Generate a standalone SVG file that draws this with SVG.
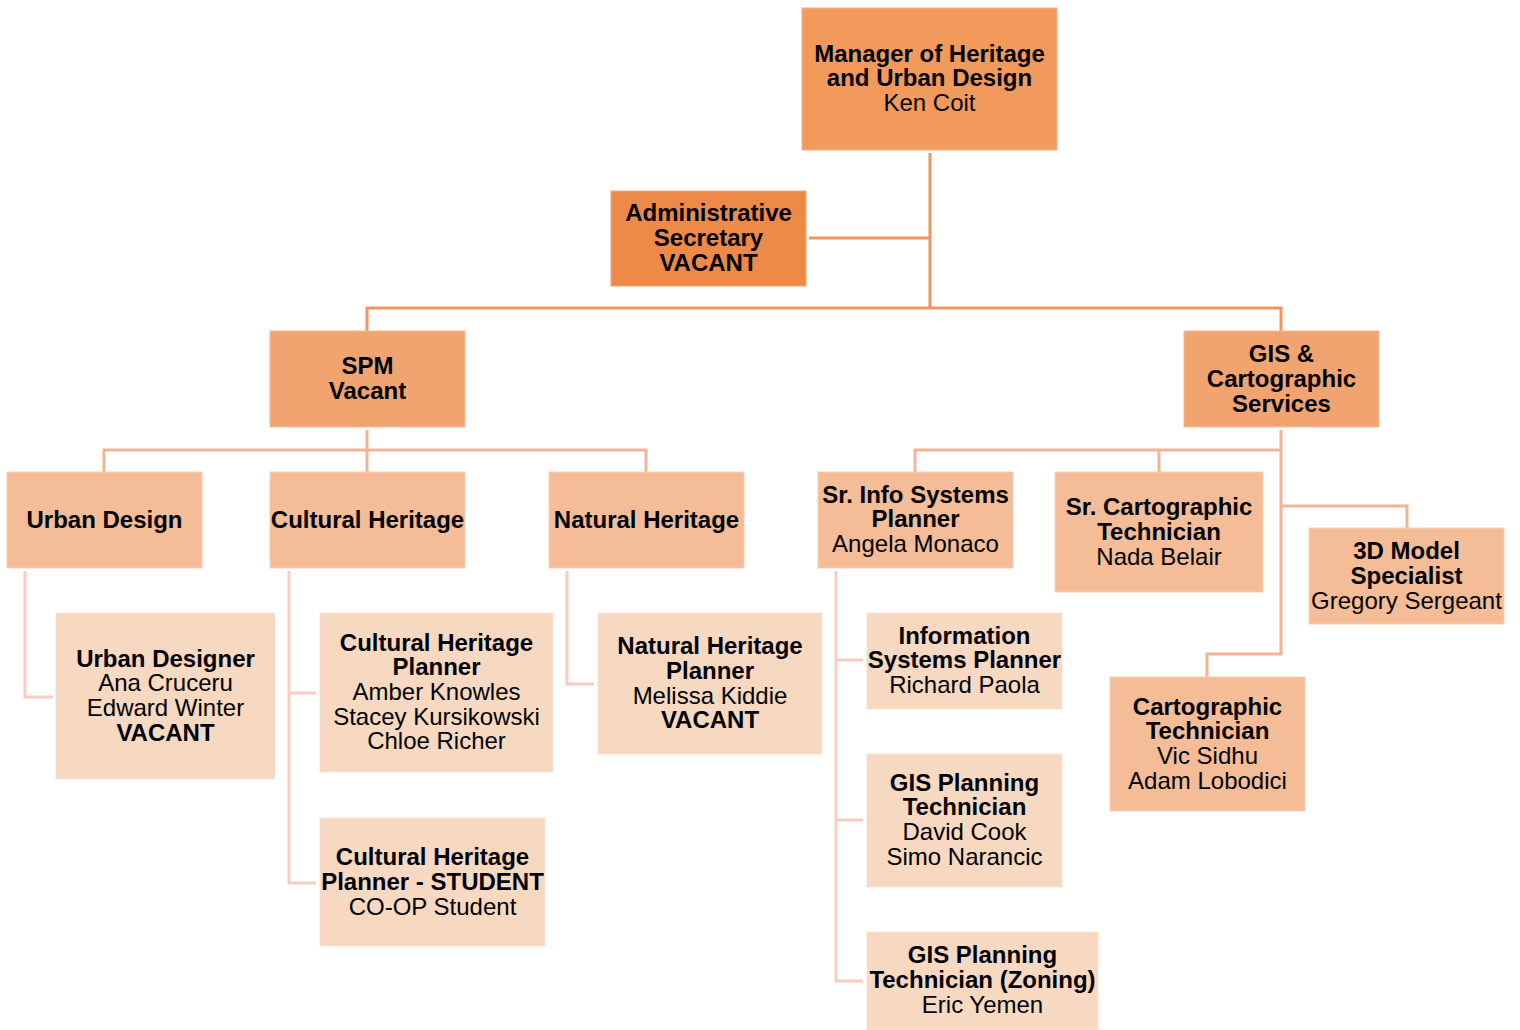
<svg xmlns="http://www.w3.org/2000/svg" width="1520" height="1030" viewBox="0 0 1520 1030">
<style>
text{font-family:"Liberation Sans",Arial,sans-serif;font-size:24px;fill:#000;text-anchor:middle}
.b{font-weight:bold}
.l1{fill:#F19A5B;stroke:#F4B08A;stroke-width:1}
.la{fill:#EE8A47;stroke:#F2A67A;stroke-width:1}
.l2{fill:#F2A470;stroke:#F5BC96;stroke-width:1}
.l3{fill:#F4BC97;stroke:#F7CDB2;stroke-width:1}
.l4{fill:#F7D8C0;stroke:#FAE3D3;stroke-width:1}
.c1{stroke:#EF9560;stroke-width:3;fill:none}
.c2{stroke:#F3B396;stroke-width:3;fill:none}
.c3{stroke:#F6CDBE;stroke-width:3;fill:none}
</style>
<rect width="1520" height="1030" fill="#fff"/>
<g id="connectors">
<path class="c1" d="M930 153V308M809 238H930M367 331V308H1281V331"/>
<path class="c2" d="M367 430V450M104 472V450H646V472M367 450V472"/>
<path class="c2" d="M1281 430V654H1207V677M915 472V450H1281M1159 450V472M1281 506H1407V528"/>
<path class="c3" d="M25 571V697H53"/>
<path class="c3" d="M289 571V883H316M289 693H316"/>
<path class="c3" d="M567 571V684H594"/>
<path class="c3" d="M836 571V981H863M836 660H863M836 820H863"/>
</g>
<g id="manager"><rect class="l1" x="802" y="8" width="255" height="142"/>
<text class="b" x="929.500" y="62">Manager of Heritage</text><text class="b" x="929.500" y="86">and Urban Design</text><text x="929.500" y="111">Ken Coit</text></g>
<g id="admin"><rect class="la" x="611" y="191" width="195" height="95"/>
<text class="b" x="708.500" y="221">Administrative</text><text class="b" x="708.500" y="246">Secretary</text><text class="b" x="708.500" y="271">VACANT</text></g>
<g id="spm"><rect class="l2" x="270" y="331" width="195" height="96"/>
<text class="b" x="367.500" y="374">SPM</text><text class="b" x="367.500" y="399">Vacant</text></g>
<g id="gis"><rect class="l2" x="1184" y="331" width="195" height="96"/>
<text class="b" x="1281.500" y="362">GIS &amp;</text><text class="b" x="1281.500" y="387">Cartographic</text><text class="b" x="1281.500" y="412">Services</text></g>
<g id="urban-design"><rect class="l3" x="7" y="472" width="195" height="96"/>
<text class="b" x="104.500" y="528">Urban Design</text></g>
<g id="cultural-heritage"><rect class="l3" x="270" y="472" width="195" height="96"/>
<text class="b" x="367.500" y="528">Cultural Heritage</text></g>
<g id="natural-heritage"><rect class="l3" x="549" y="472" width="195" height="96"/>
<text class="b" x="646.500" y="528">Natural Heritage</text></g>
<g id="sr-info"><rect class="l3" x="818" y="472" width="195" height="96"/>
<text class="b" x="915.500" y="503">Sr. Info Systems</text><text class="b" x="915.500" y="527">Planner</text><text x="915.500" y="552">Angela Monaco</text></g>
<g id="sr-carto"><rect class="l3" x="1055" y="472" width="208" height="120"/>
<text class="b" x="1159" y="515">Sr. Cartographic</text><text class="b" x="1159" y="540">Technician</text><text x="1159" y="565">Nada Belair</text></g>
<g id="model-3d"><rect class="l3" x="1309" y="528" width="195" height="96"/>
<text class="b" x="1406.500" y="559">3D Model</text><text class="b" x="1406.500" y="584">Specialist</text><text x="1406.500" y="609">Gregory Sergeant</text></g>
<g id="carto-tech"><rect class="l3" x="1110" y="677" width="195" height="134"/>
<text class="b" x="1207.500" y="715">Cartographic</text><text class="b" x="1207.500" y="739">Technician</text><text x="1207.500" y="764">Vic Sidhu</text><text x="1207.500" y="789">Adam Lobodici</text></g>
<g id="urban-designer"><rect class="l4" x="56" y="613" width="219" height="166"/>
<text class="b" x="165.500" y="667">Urban Designer</text><text x="165.500" y="691">Ana Cruceru</text><text x="165.500" y="716">Edward Winter</text><text class="b" x="165.500" y="741">VACANT</text></g>
<g id="ch-planner"><rect class="l4" x="320" y="613" width="233" height="159"/>
<text class="b" x="436.500" y="651">Cultural Heritage</text><text class="b" x="436.500" y="675">Planner</text><text x="436.500" y="700">Amber Knowles</text><text x="436.500" y="725">Stacey Kursikowski</text><text x="436.500" y="749">Chloe Richer</text></g>
<g id="ch-student"><rect class="l4" x="320" y="818" width="225" height="128"/>
<text class="b" x="432.500" y="865">Cultural Heritage</text><text class="b" x="432.500" y="890">Planner - STUDENT</text><text x="432.500" y="915">CO-OP Student</text></g>
<g id="nh-planner"><rect class="l4" x="598" y="613" width="224" height="141"/>
<text class="b" x="710" y="654">Natural Heritage</text><text class="b" x="710" y="679">Planner</text><text x="710" y="704">Melissa Kiddie</text><text class="b" x="710" y="728">VACANT</text></g>
<g id="is-planner"><rect class="l4" x="867" y="613" width="195" height="96"/>
<text class="b" x="964.500" y="644">Information</text><text class="b" x="964.500" y="668">Systems Planner</text><text x="964.500" y="693">Richard Paola</text></g>
<g id="gis-tech"><rect class="l4" x="867" y="754" width="195" height="133"/>
<text class="b" x="964.500" y="791">GIS Planning</text><text class="b" x="964.500" y="815">Technician</text><text x="964.500" y="840">David Cook</text><text x="964.500" y="865">Simo Narancic</text></g>
<g id="gis-tech-zoning"><rect class="l4" x="867" y="932" width="231" height="98"/>
<text class="b" x="982.500" y="963">GIS Planning</text><text class="b" x="982.500" y="988">Technician (Zoning)</text><text x="982.500" y="1013">Eric Yemen</text></g>
</svg>
